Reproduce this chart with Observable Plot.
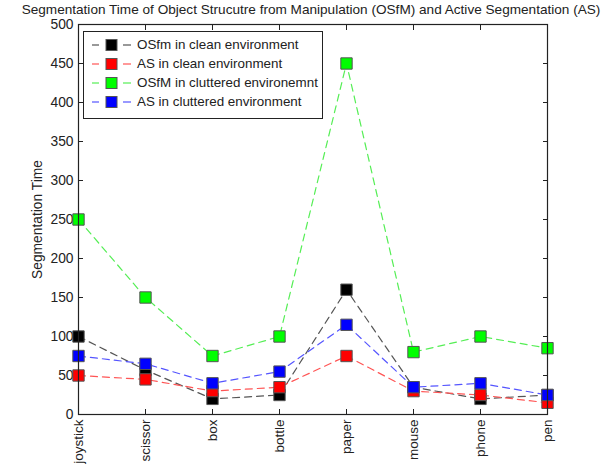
<!DOCTYPE html>
<html><head><meta charset="utf-8">
<script src="https://cdn.jsdelivr.net/npm/d3@7"></script>
<script src="https://cdn.jsdelivr.net/npm/@observablehq/plot@0.6"></script>
<style>
body{margin:0;background:#fff;font-family:"Liberation Sans",Arial,sans-serif;}
#wrap{position:relative;width:608px;height:474px;overflow:hidden;}
#title{position:absolute;left:311px;top:2px;transform:translateX(-50%);white-space:nowrap;font-size:13.6px;color:#222;}
#legend{position:absolute;left:83px;top:31px;width:240px;height:88px;border:1px solid #222;background:#fff;font-size:13.4px;color:#222;box-sizing:border-box;}
.row{position:absolute;left:0;height:18px;line-height:18px;}
.row svg{position:absolute;left:6px;top:1px;}
.row span{position:absolute;left:53px;white-space:nowrap;}
</style></head><body>
<div id="wrap"><div id="chart"></div><div id="title">Segmentation Time of Object Strucutre from Manipulation (OSfM) and Active Segmentation (AS)</div><div id="legend"></div></div>
<script>
const objects = ["joystick","scissor","box","bottle","paper","mouse","phone","pen"];
const seriesNames = ["OSfm in clean environment","AS in clean environment","OSfM in cluttered environemnt","AS in cluttered environment"];
const seriesColors = ["#000000","#ff0000","#00ff00","#0000ff"];
const lineColors = ["#555555","#ff5555","#55ee55","#5555ff"];
const osfmClean = [100, 57, 20, 25, 160, 35, 20, 25];
const asClean = [50, 45, 30, 35, 75, 30, 25, 15];
const osfmCluttered = [250, 150, 75, 100, 450, 80, 100, 85];
const asCluttered = [75, 65, 40, 55, 115, 35, 40, 25];
const yTicks = [0,50,100,150,200,250,300,350,400,450,500];

const allSeries = [osfmClean, asClean, osfmCluttered, asCluttered];
const data = [];
allSeries.forEach((vals, s) => vals.forEach((v, i) => data.push({series: seriesNames[s], idx: s, object: objects[i], value: v})));

const marks = [];
allSeries.forEach((vals, s) => {
  const d = data.filter(r => r.idx === s);
  marks.push(Plot.line(d, {x: "object", y: "value", stroke: lineColors[s], strokeWidth: 1.2, strokeDasharray: "7,5"}));
  marks.push(Plot.dot(d, {x: "object", y: "value", symbol: "square", r: 6.4, fill: seriesColors[s], stroke: "#555", strokeWidth: 1}));
});

const chart = Plot.plot({
  width: 608, height: 474,
  marginTop: 24, marginBottom: 60, marginLeft: 78, marginRight: 61,
  style: {fontFamily: "Liberation Sans, Arial, sans-serif", fontSize: "13px", color: "#222"},
  x: {type: "point", domain: objects, padding: 0},
  y: {domain: [0, 500]},
  marks: [
    Plot.axisY({anchor: "left", ticks: yTicks, tickSize: 0, tickPadding: 5, label: "Segmentation Time", labelAnchor: "center", labelOffset: 46, labelArrow: "none", fontSize: 13.8}),
    Plot.axisY({anchor: "left", ticks: yTicks, tickSize: -5, tickFormat: () => "", label: null}),
    Plot.axisY({anchor: "right", ticks: yTicks, tickSize: -5, tickFormat: () => "", label: null}),
    Plot.axisX({anchor: "bottom", tickSize: 0, tickPadding: 5, tickRotate: -90, label: null, fontSize: 13.5}),
    Plot.axisX({anchor: "bottom", tickSize: -5, tickFormat: () => "", label: null}),
    Plot.axisX({anchor: "top", tickSize: -5, tickFormat: () => "", label: null}),
    ...marks,
    Plot.frame({stroke: "#222", strokeWidth: 1.2})
  ]
});
document.getElementById("chart").appendChild(chart);

const legend = document.getElementById("legend");
seriesNames.forEach((name, s) => {
  const row = document.createElement("div");
  row.className = "row";
  row.style.top = (4 + s * 19) + "px";
  row.innerHTML = `<svg width="44" height="16"><line x1="2" x2="9" y1="8" y2="8" stroke="${lineColors[s]}" stroke-width="1.2"/><line x1="33" x2="41" y1="8" y2="8" stroke="${lineColors[s]}" stroke-width="1.2"/><rect x="16" y="2.5" width="11" height="11" fill="${seriesColors[s]}" stroke="#555"/></svg><span>${name}</span>`;
  legend.appendChild(row);
});
</script>
</body></html>
